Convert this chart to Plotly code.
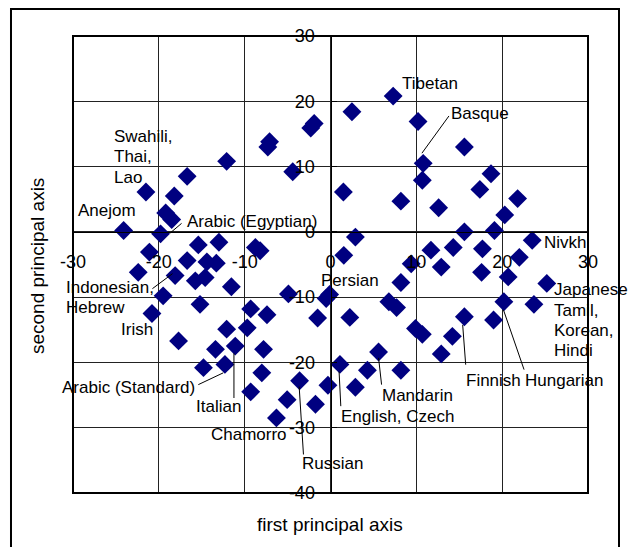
import plotly.graph_objects as go

# Principal component scores of the languages (first axis, second axis)
pc1 = [-2.3, -1.9, -7.1, -7.3, -4.4, -12.1, -16.7, -21.5, -18.2, -19.2,
       -18.5, -24.1, -19.8, -15.4, -13.0, -8.75, -8.2, -21.1, -16.7, -14.4,
       -13.3, -22.4, -18.1, -15.75, -14.6, -11.55, -19.5, -15.2, -20.8, -9.3,
       -7.4, -4.9, -12.1, -9.7, -17.7, -13.4, -11.1, -7.8, -14.8, -12.3,
       -8.0, -9.3, -5.05, -3.6, -1.75, -6.3, -1.5, -0.1, -0.5,
       7.3, 2.5, 10.2, 15.6, 10.8, 10.7, 18.7, 17.4, 1.5, 8.2,
       21.8, 12.6, 20.3, 15.6, 19.1, 23.5, 2.9, 1.55, 11.7, 14.3,
       17.7, 22.0, 9.4, 12.9, 17.6, 20.7, 8.2, 25.2, 2.25, 6.8,
       7.7, 20.2, 23.7, 9.9, 10.7, 15.6, 19.0, 14.2, 12.9, 5.6,
       1.1, 4.3, 8.2, -0.3, 2.9]
pc2 = [15.9, 16.6, 13.8, 13.0, 9.2, 10.8, 8.5, 6.1, 5.5, 2.9,
       1.9, 0.2, -0.3, -2.0, -1.6, -2.4, -2.9, -3.1, -4.4, -4.6,
       -4.8, -6.2, -6.7, -7.5, -7.0, -8.4, -9.8, -11.1, -12.5, -11.8,
       -12.7, -9.5, -14.9, -14.7, -16.7, -18.0, -17.5, -18.0, -20.8, -20.3,
       -21.6, -24.5, -25.7, -22.8, -26.4, -28.5, -13.2, -9.6, -10.2,
       20.8, 18.4, 16.9, 13.0, 10.5, 7.9, 8.9, 6.5, 6.1, 4.7,
       5.1, 3.7, 2.6, 0.0, 0.2, -1.3, -0.8, -3.6, -2.8, -2.4,
       -2.6, -3.9, -4.9, -5.4, -6.2, -6.9, -7.75, -7.9, -13.1, -10.7,
       -11.6, -10.7, -11.1, -14.8, -15.7, -13.0, -13.5, -16.0, -18.7, -18.4,
       -20.3, -21.2, -21.2, -23.5, -23.8]

x_ticks = [-30, -20, -10, 0, 10, 20, 30]
y_ticks = [-40, -30, -20, -10, 0, 10, 20, 30]

X_RANGE = [-30, 30]
Y_RANGE = [-40, 30]

# Language labels: (lines, x, y) with the text's left edge at x
labels = [
    (["Tibetan"], 8.1, 22.7),
    (["Basque"], 13.8, 18.2),
    (["Swahili,", "Thai,", "Lao"], -25.4, 14.6),
    (["Anejom"], -29.6, 3.3),
    (["Arabic (Egyptian)"], -17.0, 1.6),
    (["Nivkh"], 24.6, -1.6),
    (["Japanese", "Tamil,", "Korean,", "Hindi"], 25.75, -8.9),
    (["Persian"], -1.35, -7.5),
    (["Indonesian,", "Hebrew"], -31.0, -8.5),
    (["Irish"], -24.6, -14.9),
    (["Finnish"], 15.55, -22.75),
    (["Hungarian"], 22.4, -22.75),
    (["Mandarin"], 5.75, -25.05),
    (["English, Czech"], 0.95, -28.25),
    (["Arabic (Standard)"], -31.5, -23.9),
    (["Italian"], -15.9, -26.75),
    (["Chamorro"], -14.2, -31.05),
    (["Russian"], -3.55, -35.5),
]
line_step = 3.1  # vertical spacing of multi-line labels, in axis units

# Leader lines from labels to their points: (x0, y0, x1, y1)
leaders = [
    (13.8, 17.75, 10.65, 12.05),
    (-17.35, 1.3, -18.7, -0.2),
    (-20.75, -8.7, -18.4, -6.4),
    (15.75, -20.35, 15.4, -14.25),
    (22.55, -21.1, 20.15, -11.95),
    (5.95, -23.4, 5.6, -19.3),
    (1.2, -26.7, 1.0, -21.4),
    (-3.15, -34.1, -3.65, -23.7),
    (-11.25, -25.45, -11.25, -18.6),
    (-15.4, -23.4, -12.5, -21.6),
]

FONT = "Liberation Sans, Arial, sans-serif"
W, H = 630, 547
M = dict(l=73, r=42, t=36, b=54)
px_per_x = (W - M["l"] - M["r"]) / (X_RANGE[1] - X_RANGE[0])

fig = go.Figure()
fig.add_trace(go.Scatter(
    x=pc1, y=pc2, mode="markers",
    marker=dict(symbol="diamond", size=14.5, color="#000080", line=dict(width=0)),
    showlegend=False, hoverinfo="x+y",
))

annotations = []
for lines, lx, ly in labels:
    # labels starting left of the axis range are anchored at its edge and shifted
    ax_x = max(lx, X_RANGE[0])
    shift = (lx - ax_x) * px_per_x
    for i, line in enumerate(lines):
        annotations.append(dict(
            x=ax_x, y=ly - i * line_step, xref="x", yref="y", text=line,
            xshift=shift, showarrow=False, xanchor="left", yanchor="middle",
            font=dict(family=FONT, size=17, color="#000"),
        ))

annotations.append(dict(
    x=0.4985, y=-0.069, xref="paper", yref="paper", text="first principal axis",
    showarrow=False, xanchor="center", yanchor="middle",
    font=dict(family=FONT, size=19, color="#000"),
))
annotations.append(dict(
    x=-0.069, y=0.4977, xref="paper", yref="paper", text="second principal axis",
    showarrow=False, xanchor="center", yanchor="middle", textangle=-90,
    font=dict(family=FONT, size=19, color="#000"),
))

shapes = [dict(type="line", xref="x", yref="y", x0=a, y0=b, x1=c, y1=d,
               line=dict(color="#000", width=1)) for a, b, c, d in leaders]
# plot frame
shapes.append(dict(type="rect", xref="paper", yref="paper", x0=0, y0=0, x1=1, y1=1,
                   line=dict(color="#000", width=2), layer="above"))
# outer chart frame
shapes.append(dict(type="rect", xref="paper", yref="paper",
                   x0=-0.1204, x1=1.0602, y0=-0.16, y1=1.0591,
                   line=dict(color="#000", width=2), layer="above"))

fig.update_layout(
    width=W, height=H,
    margin=M,
    paper_bgcolor="white", plot_bgcolor="white",
    font=dict(family=FONT, size=18, color="#000"),
    xaxis=dict(
        range=X_RANGE, tickvals=x_ticks, ticktext=[str(v) for v in x_ticks],
        showgrid=True, gridcolor="#222", gridwidth=1, zeroline=False,
        showline=True, linecolor="#000", linewidth=1,
        anchor="free", position=0.5711, ticks="", ticklabelstandoff=13,
        tickfont=dict(family=FONT, size=18, color="#000"),
    ),
    yaxis=dict(
        range=Y_RANGE, tickvals=y_ticks, ticktext=[str(v) for v in y_ticks],
        showgrid=True, gridcolor="#222", gridwidth=1, zeroline=False,
        showline=True, linecolor="#000", linewidth=1,
        anchor="free", position=0.5, ticks="inside", ticklen=5, tickcolor="#000",
        ticklabelstandoff=12,
        tickfont=dict(family=FONT, size=18, color="#000"),
    ),
    annotations=annotations,
    shapes=shapes,
)

fig.write_html("out.html")
